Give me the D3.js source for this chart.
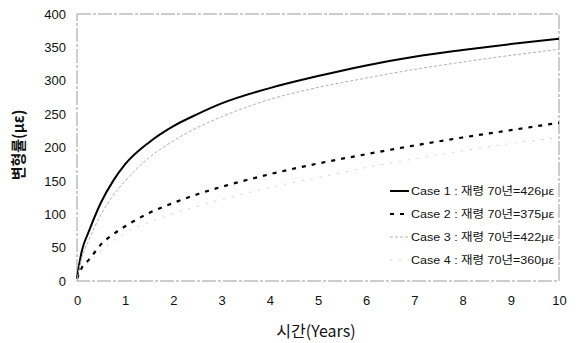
<!DOCTYPE html>
<html><head><meta charset="utf-8">
<script src="https://cdn.jsdelivr.net/npm/d3@7"></script>
<style>body{margin:0;background:#fff;}svg{display:block;}</style>
</head><body>
<svg id="c" width="579" height="343"></svg>
<script>
const years = [0, 0.1, 0.25, 0.5, 0.75, 1, 1.5, 2, 2.5, 3, 4, 5, 6, 7, 8, 9, 10];
const case1 = [5, 45, 75, 118, 150, 175, 208, 232, 250, 266, 289, 307, 323, 336, 346, 355, 363];
const case2 = [3, 20, 32, 55, 70, 82, 102, 117, 130, 141, 160, 176, 190, 203, 215, 226, 237];
const case3 = [5, 35, 62, 100, 128, 150, 185, 210, 230, 246, 272, 290, 304, 317, 328, 338, 347];
const case4 = [3, 15, 28, 45, 60, 72, 88, 101, 112, 122, 140, 155, 170, 183, 195, 206, 215];
const xTicks = [0,1,2,3,4,5,6,7,8,9,10];
const yTicks = [0,50,100,150,200,250,300,350,400];
const legendLabels = ["Case 1 : 재령 70년=426με","Case 2 : 재령 70년=375με","Case 3 : 재령 70년=422με","Case 4 : 재령 70년=360με"];

const svg = d3.select("#c");
const L=77, R=559, T=14, B=281;
const x = d3.scaleLinear().domain([0,10]).range([L,R]);
const y = d3.scaleLinear().domain([0,400]).range([B,T]);

// frame
svg.append("rect").attr("x",L).attr("y",T).attr("width",R-L).attr("height",B-T)
  .attr("fill","none").attr("stroke","#9a9a9a").attr("stroke-width",1).attr("stroke-dasharray","14,2,3,2");

const xa = svg.append("g").attr("transform",`translate(0,${B})`)
  .call(d3.axisBottom(x).tickValues(xTicks).tickSize(0).tickPadding(15));
xa.select(".domain").remove();
xa.selectAll("text").attr("font-family","Liberation Sans, Arial, sans-serif").attr("font-size",13).attr("fill","#111");

const ya = svg.append("g").attr("transform",`translate(${L},0)`)
  .call(d3.axisLeft(y).tickValues(yTicks).tickSize(0).tickPadding(11));
ya.select(".domain").remove();
ya.selectAll("text").attr("font-family","Liberation Sans, Arial, sans-serif").attr("font-size",13).attr("fill","#111");

const styles = [
  {data:case1, stroke:"#000", w:2, dash:null},
  {data:case2, stroke:"#000", w:2.2, dash:"4,6"},
  {data:case3, stroke:"#b0b0b0", w:1, dash:"3,2"},
  {data:case4, stroke:"#d0d0d0", w:1, dash:"2,7"}
];
const line = d3.line().x((d,i)=>x(years[i])).y(d=>y(d)).curve(d3.curveMonotoneX);
styles.forEach(s=>{
  svg.append("path").datum(s.data).attr("d",line).attr("fill","none")
    .attr("stroke",s.stroke).attr("stroke-width",s.w).attr("stroke-dasharray",s.dash);
});

// legend
const lg = svg.append("g");
const rowsY = [191, 214, 237, 260];
legendLabels.forEach((t,i)=>{
  const s = styles[i];
  lg.append("line").attr("x1",390).attr("x2",409).attr("y1",rowsY[i]).attr("y2",rowsY[i])
    .attr("stroke",s.stroke).attr("stroke-width",s.w).attr("stroke-dasharray",s.dash);
  lg.append("text").attr("x",411).attr("y",rowsY[i]+4).text(t)
    .attr("font-family","Liberation Sans, Noto Sans CJK KR, sans-serif").attr("font-size",11.5).attr("fill","#111")
    .attr("textLength",143).attr("lengthAdjust","spacingAndGlyphs");
});

svg.append("text").attr("x",316).attr("y",337).attr("text-anchor","middle")
  .attr("font-family","Noto Sans CJK KR, sans-serif").attr("font-size",16).attr("fill","#111").text("시간(Years)");
svg.append("text").attr("transform","translate(24,145) rotate(-90)").attr("text-anchor","middle")
  .attr("font-family","Noto Sans CJK KR, sans-serif").attr("font-weight","bold").attr("font-size",15).attr("fill","#111").text("변형률(με)");
</script>
</body></html>
